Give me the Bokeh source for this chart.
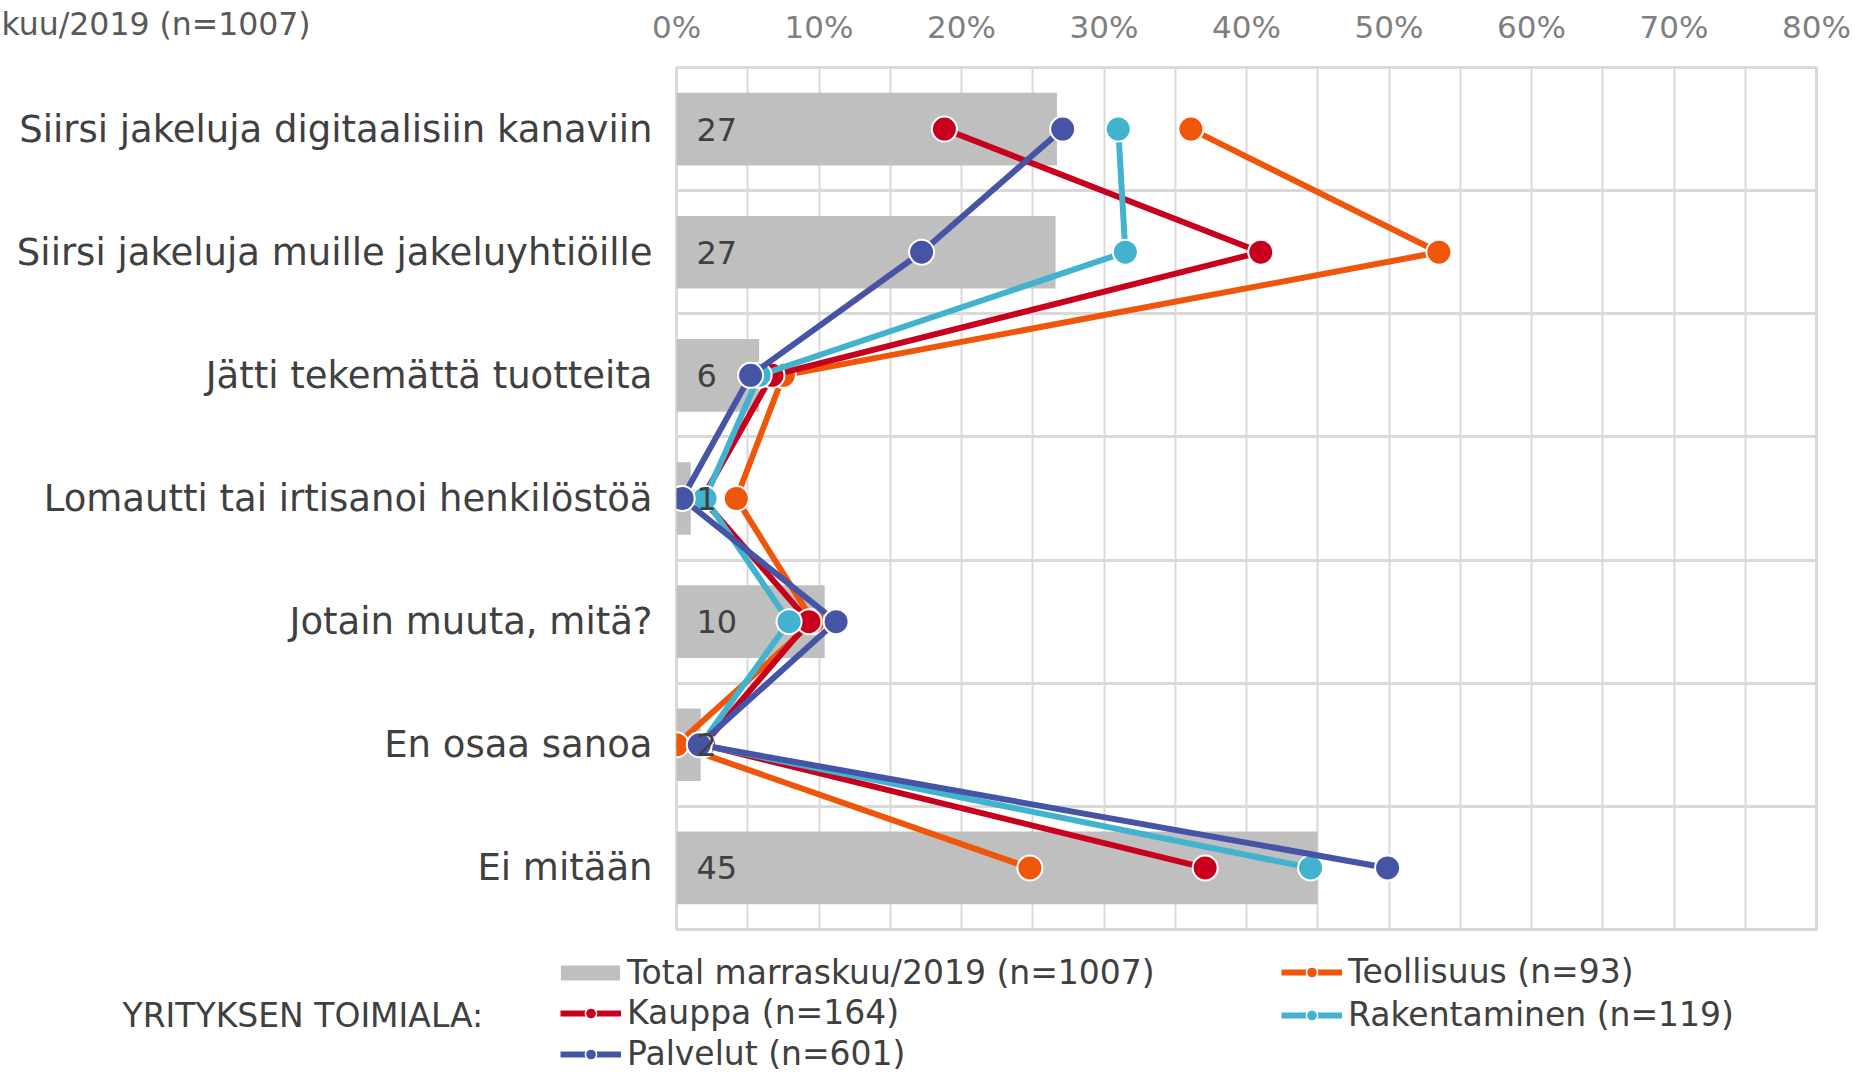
from bokeh.plotting import figure
from bokeh.models import (FixedTicker, PrintfTickFormatter, Legend, LegendItem,
                          Label, Range1d, ColumnDataSource)
from bokeh.layouts import column, row
from bokeh.core.properties import value
from bokeh.embed import file_html
from bokeh.resources import INLINE

categories = [
    "Siirsi jakeluja digitaalisiin kanaviin",
    "Siirsi jakeluja muille jakeluyhtiöille",
    "Jätti tekemättä tuotteita",
    "Lomautti tai irtisanoi henkilöstöä",
    "Jotain muuta, mitä?",
    "En osaa sanoa",
    "Ei mitään",
]
total = [26.7, 26.6, 5.8, 1.0, 10.4, 1.7, 45.0]
total_labels = ["27", "27", "6", "1", "10", "2", "45"]
teollisuus = [36.1, 53.5, 7.5, 4.2, 9.6, 0.0, 24.8]
kauppa = [18.8, 41.0, 6.7, 1.8, 9.3, 1.9, 37.1]
rakentaminen = [31.0, 31.5, 5.8, 2.0, 7.9, 1.7, 44.5]
palvelut = [27.1, 17.2, 5.2, 0.4, 11.2, 1.6, 49.9]
x_ticks = [0, 10, 20, 30, 40, 50, 60, 70, 80]
grid_ticks = list(range(0, 85, 5))
title_text = "kuu/2019 (n=1007)"          # visible (clipped) part of the chart title
total_label = "Total marraskuu/2019 (n=1007)"
legend_title = "YRITYKSEN TOIMIALA:"

FONT = "DejaVu Sans"
TXT = "#404040"
idx = list(range(len(categories)))
xr = Range1d(0, 80)

series = [
    ("Teollisuus (n=93)", teollisuus, "#f0560a"),
    ("Kauppa (n=164)", kauppa, "#c8001e"),
    ("Rakentaminen (n=119)", rakentaminen, "#41b3cf"),
    ("Palvelut (n=601)", palvelut, "#4654a5"),
]


def blank(fig):
    fig.background_fill_color = "white"
    fig.border_fill_color = "white"
    fig.outline_line_color = None
    fig.grid.visible = False


# ---------- top-left title strip ----------
f_tl = figure(width=600, height=65, output_backend="svg", toolbar_location=None,
              x_range=Range1d(0, 600), y_range=Range1d(65, 0),
              x_axis_location=None, y_axis_location=None,
              min_border=0)
blank(f_tl)
f_tl.add_layout(Label(x=1, y=23, text=title_text, text_align="left",
                      text_baseline="middle", text_font=FONT,
                      text_font_size="31.5px", text_color="#595959"))

# ---------- top axis strip ----------
f_ax = figure(width=1265, height=65, output_backend="svg", toolbar_location=None,
              x_range=xr, y_range=Range1d(0, 1),
              x_axis_location="below", y_axis_location=None,
              min_border_left=76, min_border_right=49, min_border_top=0,
              min_border_bottom=61)
blank(f_ax)
xa = f_ax.xaxis[0]
xa.ticker = FixedTicker(ticks=x_ticks)
xa.formatter = PrintfTickFormatter(format="%d%%")
xa.axis_line_color = None
xa.major_tick_line_color = None
xa.minor_tick_line_color = None
xa.major_tick_out = 0
xa.major_label_standoff = 4
xa.major_label_text_font = FONT
xa.major_label_text_font_size = "31px"
xa.major_label_text_color = "#7f7f7f"

# ---------- main chart ----------
p = figure(width=1865, height=866, output_backend="svg", toolbar_location=None,
           x_range=xr, y_range=Range1d(len(categories) - 0.5, -0.5),
           x_axis_location=None,
           min_border_left=676, min_border_right=49, min_border_top=2,
           min_border_bottom=2)
p.background_fill_color = "white"
p.border_fill_color = "white"
p.outline_line_color = "#d9d9d9"
p.outline_line_width = 3

ya = p.yaxis[0]
ya.ticker = FixedTicker(ticks=idx)
ya.major_label_overrides = {i: c for i, c in zip(idx, categories)}
ya.axis_line_color = None
ya.major_tick_line_color = None
ya.minor_tick_line_color = None
ya.major_tick_out = 0
ya.major_label_standoff = 24
ya.major_label_text_font = FONT
ya.major_label_text_font_size = "37px"
ya.major_label_text_color = TXT

p.xgrid.ticker = FixedTicker(ticks=grid_ticks)
p.xgrid.grid_line_color = "#d9d9d9"
p.xgrid.grid_line_width = 2
p.ygrid.ticker = FixedTicker(ticks=[i + 0.5 for i in idx[:-1]])
p.ygrid.grid_line_color = "#d9d9d9"
p.ygrid.grid_line_width = 3

p.hbar(y=idx, left=0, right=total, height=0.59, fill_color="#bfbfbf",
       line_color=None)
for name, vals, col in series:
    p.line(x=vals, y=idx, line_color=col, line_width=6)
    p.scatter(x=vals, y=idx, size=25, fill_color=col, line_color="white",
              line_width=2)

src = ColumnDataSource(dict(x=[0 for _ in total], y=idx, t=total_labels))
p.text(x="x", y="y", text="t", source=src, x_offset=20, text_align="left",
       text_baseline="middle", text_font=value(FONT), text_font_size="32px",
       text_color=TXT)

# ---------- legend strip ----------
LH = 143
f_lg = figure(width=1865, height=LH, output_backend="svg", toolbar_location=None,
              x_range=Range1d(0, 1865), y_range=Range1d(LH, 0),
              x_axis_location=None, y_axis_location=None, min_border=0)
blank(f_lg)
proxy_bar = f_lg.hbar(y=idx, left=0, right=total, height=0.59,
                      fill_color="#bfbfbf", line_color=None, visible=False)
proxy = {}
for name, vals, col in series:
    ln = f_lg.line(x=vals, y=idx, line_color=col, line_width=6, visible=False)
    sc = f_lg.scatter(x=vals, y=idx, size=24, fill_color=col, line_color="white",
                      line_width=1.5, visible=False)
    proxy[name] = [ln, sc]


def mk_legend(items, loc, gw, gh, standoff, spacing):
    lg = Legend(items=items, location=loc, orientation="vertical",
                glyph_width=gw, glyph_height=gh, label_standoff=standoff,
                label_height=38, label_text_font=FONT,
                label_text_font_size="33px", label_text_color=TXT,
                spacing=spacing, padding=0, margin=0, border_line_color=None,
                background_fill_alpha=0, inactive_fill_alpha=0)
    f_lg.add_layout(lg, "center")


mk_legend([LegendItem(label=total_label, renderers=[proxy_bar])],
          (553, 82), 74, 19, 0, 4)
mk_legend([LegendItem(label="Kauppa (n=164)", renderers=proxy["Kauppa (n=164)"]),
           LegendItem(label="Palvelut (n=601)", renderers=proxy["Palvelut (n=601)"])],
          (560, 1), 61, 28, 6, 2)
mk_legend([LegendItem(label="Teollisuus (n=93)", renderers=proxy["Teollisuus (n=93)"]),
           LegendItem(label="Rakentaminen (n=119)",
                      renderers=proxy["Rakentaminen (n=119)"])],
          (1281, 40), 61, 28, 6, 4)
f_lg.add_layout(Label(x=122, y=84, text=legend_title, text_align="left",
                      text_baseline="middle", text_font=FONT,
                      text_font_size="33px", text_color=TXT))

layout = column(row(column(f_tl), f_ax), p, row(f_lg))
open("out.html", "w").write(file_html(layout, INLINE))
